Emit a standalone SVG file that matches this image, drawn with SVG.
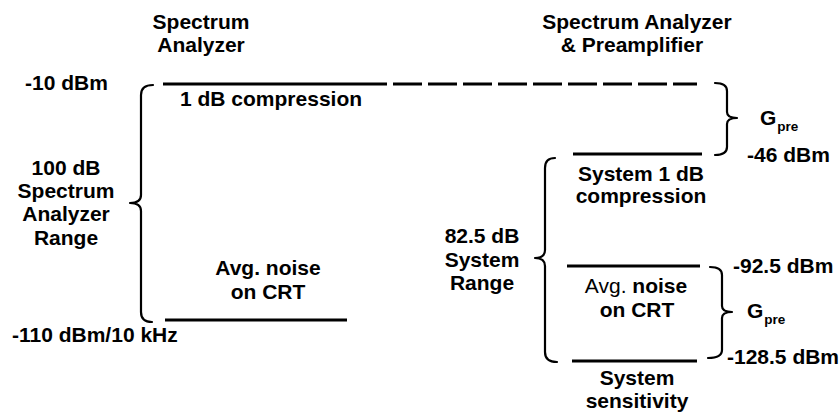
<svg xmlns="http://www.w3.org/2000/svg" width="839" height="413" viewBox="0 0 839 413">
<style>
text{font-family:"Liberation Sans",Arial,sans-serif;font-weight:bold;font-size:21px;fill:#000}
.c{text-anchor:middle}
.r{font-weight:normal}
.sub{font-size:13.5px}
.ln{stroke:#000;stroke-width:3;fill:none}
.br{stroke:#000;stroke-width:2.2;fill:none;stroke-linejoin:round;stroke-linecap:round}
</style>
<rect width="839" height="413" fill="#fff"/>
<g id="headers">
<text class="c" x="201" y="29">Spectrum</text>
<text class="c" x="201" y="52">Analyzer</text>
<text class="c" x="637" y="29">Spectrum Analyzer</text>
<text class="c" x="632" y="52">&amp; Preamplifier</text>
</g>
<g id="connectors">
<line class="ln" x1="163" y1="84" x2="387" y2="84"/>
<line class="ln" x1="393" y1="84" x2="697" y2="84" stroke-dasharray="29 6"/>
<line class="ln" x1="165" y1="320" x2="347" y2="320"/>
<line class="ln" x1="573" y1="154" x2="702" y2="154"/>
<line class="ln" x1="567" y1="266" x2="700" y2="266"/>
<line class="ln" x1="572" y1="361" x2="697" y2="361"/>
<path class="br" d="M153,85 Q141,85 141,95 L141,195 Q141,203 130,203 Q141,203 141,211 L141,312 Q141,322 152,322"/>
<path class="br" d="M555,158 Q545,158 545,168 L545,250 Q545,258 535,258 Q545,258 545,266 L545,352 Q545,362 557,362"/>
<path class="br" d="M715,83 Q727,83 727,91 L727,112 Q727,118 737,118 Q727,118 727,124 L727,147 Q727,155 715,155"/>
<path class="br" d="M710,267 Q722,267 722,275 L722,306 Q722,312 732,312 Q722,312 722,318 L722,350 Q722,358 708,358"/>
</g>
<g id="sa-levels">
<text x="25" y="90">-10 dBm</text>
<text x="180" y="106">1 dB compression</text>
<text x="12" y="342">-110 dBm/10 kHz</text>
</g>
<g id="sa-range">
<text class="c" x="66" y="175">100 dB</text>
<text class="c" x="66" y="198">Spectrum</text>
<text class="c" x="66" y="221">Analyzer</text>
<text class="c" x="66" y="245">Range</text>
</g>
<g id="sa-noise">
<text class="c" x="268" y="275">Avg. noise</text>
<text class="c" x="268" y="299">on CRT</text>
</g>
<g id="gpre-top">
<text x="760" y="125">G<tspan class="sub" dx="1" dy="6">pre</tspan></text>
<text x="747" y="162">-46 dBm</text>
</g>
<g id="sys-compression">
<text class="c" x="641" y="181">System 1 dB</text>
<text class="c" x="641" y="203">compression</text>
</g>
<g id="sys-range">
<text class="c" x="482" y="243">82.5 dB</text>
<text class="c" x="482" y="267">System</text>
<text class="c" x="482" y="290">Range</text>
</g>
<g id="sys-noise">
<text class="c" x="636" y="293"><tspan class="r">Avg.</tspan> noise</text>
<text class="c" x="637" y="317">on CRT</text>
</g>
<g id="gpre-bottom">
<text x="733" y="273">-92.5 dBm</text>
<text x="747" y="318">G<tspan class="sub" dx="1" dy="6">pre</tspan></text>
<text x="727" y="364">-128.5 dBm</text>
</g>
<g id="sys-sensitivity">
<text class="c" x="637" y="385">System</text>
<text class="c" x="637" y="408">sensitivity</text>
</g>
</svg>
